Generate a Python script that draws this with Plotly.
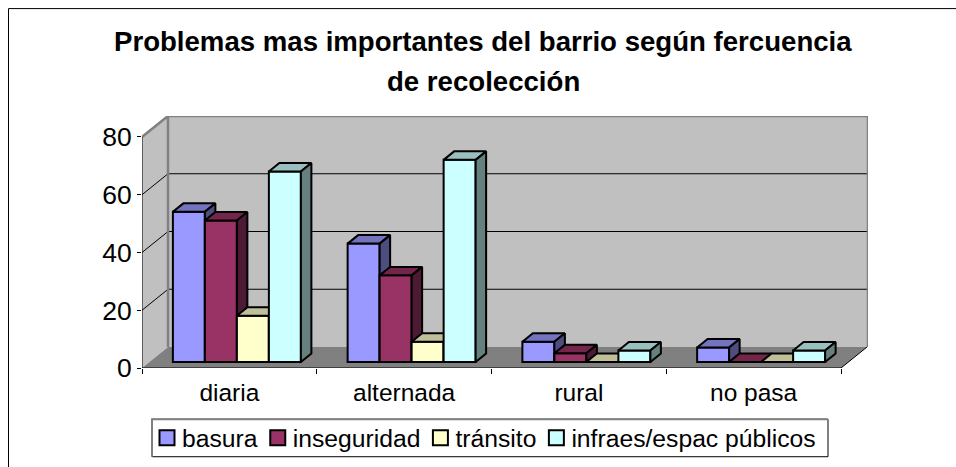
import plotly.graph_objects as go

categories = ["diaria", "alternada", "rural", "no pasa"]
series_names = ["basura", "inseguridad", "tránsito", "infraes/espac públicos"]
basura = [52, 41, 7, 5]
inseguridad = [49, 30, 3, 0]
transito = [16, 7, 0, 0]
infraes = [66, 70, 4, 4]
y_ticks = [0, 20, 40, 60, 80]

series_values = [basura, inseguridad, transito, infraes]
front = ["#9999FF", "#993366", "#FFFFCC", "#CCFFFF"]
top_c = ["#7373BF", "#732649", "#BFBF99", "#99BFBF"]
side_c = ["#4D4D80", "#4D1A33", "#808066", "#668080"]

# pixel geometry of the plot
L, R, T, B = 142, 868, 115.5, 367.7
CAT_PX, UNIT_PX = 174.75, 2.89
px = lambda p: p / CAT_PX
uy = lambda p: p / UNIT_PX
W = 956; H = 467
PW, PH = R - L, B - T
fx = lambda p: (p - L) / PW      # page pixel to paper fraction
fy = lambda p: (B - p) / PH
X0, X1 = -0.5, -0.5 + (R - L) / CAT_PX
Y0, Y1 = 0, (B - T) / UNIT_PX
DX, DY = px(26), uy(21)       # wall depth
GX, GY = px(7.5), uy(6)       # gap before bar
BX, BY = px(10.5), uy(8.5)    # bar depth
BW = px(32)
XR = X0 + len(categories)

fig = go.Figure()
wall = dict(mode="lines", hoverinfo="skip", showlegend=False, cliponaxis=False)
GREY = "#808080"
# walls and floor
fig.add_trace(go.Scatter(x=[X0, X0 + DX, X0 + DX, X0, X0], y=[0, DY, Y1, 80, 0], fill="toself",
                         fillcolor="#C0C0C0", line=dict(width=0), **wall))
fig.add_trace(go.Scatter(x=[X0 + DX, X1, X1, X0 + DX, X0 + DX], y=[DY, DY, Y1, Y1, DY], fill="toself",
                         fillcolor="#C0C0C0", line=dict(width=0), **wall))
fig.add_trace(go.Scatter(x=[X0, XR, XR + DX, X0 + DX, X0], y=[0, 0, DY, DY, 0], fill="toself",
                         fillcolor=GREY, line=dict(width=0), **wall))
# gridlines
gx, gy = [], []
for v in y_ticks[1:-1]:
    gx += [X0, X0 + DX, X1, None]
    gy += [v, v + DY, v + DY, None]
fig.add_trace(go.Scatter(x=gx, y=gy, line=dict(color="#000000", width=1), **wall))
# wall edges
fig.add_trace(go.Scatter(x=[X0, X0 + DX, X1, X1], y=[80, Y1, Y1, DY], line=dict(color=GREY, width=2.5), **wall))
fig.add_trace(go.Scatter(x=[X0 + DX, X0 + DX], y=[Y1, DY], line=dict(color=GREY, width=2.5), **wall))
# axis lines
fig.add_trace(go.Scatter(x=[X0, X0, XR, XR + DX], y=[80, 0, 0, DY], line=dict(color="#000000", width=1), **wall))

for s, (name, vals) in enumerate(zip(series_names, series_values)):
    n = s + 2
    xa, ya = f"x{n}", f"y{n}"
    offset = GX + (s - 2) * BW
    fig.add_trace(go.Bar(x=list(range(len(categories))), y=vals, base=GY, width=BW, offset=offset,
                         name=name, marker=dict(color=front[s], line=dict(color="#000000", width=2)),
                         xaxis=xa, yaxis=ya, hoverinfo="y"))
    tx, ty, sx, sy = [], [], [], []
    for i, v in enumerate(vals):
        l = i + offset
        r = l + BW
        t = GY + v
        tx += [l, r, r + BX, l + BX, l, None]
        ty += [t, t, t + BY, t + BY, t, None]
        if v > 0:
            sx += [r, r + BX, r + BX, r, r, None]
            sy += [GY, GY + BY, t + BY, t, GY, None]
    fig.add_trace(go.Scatter(x=tx, y=ty, fill="toself", fillcolor=top_c[s], mode="lines",
                             line=dict(color="#000000", width=2), showlegend=False, hoverinfo="skip",
                             xaxis=xa, yaxis=ya, cliponaxis=False))
    fig.add_trace(go.Scatter(x=sx, y=sy, fill="toself", fillcolor=side_c[s], mode="lines",
                             line=dict(color="#000000", width=2), showlegend=False, hoverinfo="skip",
                             xaxis=xa, yaxis=ya, cliponaxis=False))

layout = dict(
    width=W, height=H, autosize=False,
    margin=dict(l=L, r=W - R, t=T, b=H - B, pad=0, autoexpand=False),
    paper_bgcolor="#FFFFFF", plot_bgcolor="#FFFFFF",
    font=dict(family="Liberation Sans, Arial, sans-serif", color="#000000"),
    barmode="overlay",
    showlegend=True,
    legend=dict(orientation="h", xanchor="left", yanchor="top",
                x=fx(152), y=fy(415),
                bgcolor="rgba(0,0,0,0)", borderwidth=0,
                font=dict(size=24.7), indentation=-15, itemwidth=35, traceorder="normal"),
    xaxis=dict(range=[X0, X1], tickmode="array", tickvals=list(range(len(categories))),
               ticktext=categories, ticks="", showgrid=False, zeroline=False, showline=False,
               tickfont=dict(size=24.5), ticklabelstandoff=7,
               minor=dict(tickmode="array", tickvals=[i - 0.5 for i in range(len(categories) + 1)],
                          ticks="outside", ticklen=5, tickcolor="#000000", tickwidth=1, showgrid=False)),
    yaxis=dict(range=[Y0, Y1], tickmode="array", tickvals=y_ticks, ticks="outside", ticklen=4,
               tickcolor="#000000", tickwidth=1, showgrid=False, zeroline=False, showline=False,
               tickfont=dict(size=26.5)),
    annotations=[
        dict(text="<b>Problemas mas importantes del barrio según fercuencia</b>", xref="paper", yref="paper",
             x=fx(483), y=fy(41), xanchor="center", yanchor="middle",
             showarrow=False, font=dict(size=27.6)),
        dict(text="<b>de recolección</b>", xref="paper", yref="paper",
             x=fx(483), y=fy(81), xanchor="center", yanchor="middle",
             showarrow=False, font=dict(size=27.6)),
    ],
    shapes=[
        # outer chart frame, running off the right and bottom of the crop
        dict(type="path", xref="paper", yref="paper", line=dict(color="#000000", width=1),
             path=f"M {fx(8.5)} {fy(470)} L {fx(8.5)} {fy(8)} L {fx(960)} {fy(8)}"),
        # legend frame
        dict(type="rect", xref="paper", yref="paper", x0=fx(152), x1=fx(828), y0=fy(456.5), y1=fy(419),
             fillcolor="#FFFFFF", line=dict(color="#000000", width=1)),
        dict(type="path", xref="paper", yref="paper", line=dict(color=GREY, width=2),
             path=f"M {fx(152)} {fy(456.5)} L {fx(152)} {fy(419)} L {fx(828)} {fy(419)}"),
    ],
)
for n in range(2, 6):
    layout[f"xaxis{n}"] = dict(range=[X0, X1], overlaying="x", visible=False, matches="x")
    layout[f"yaxis{n}"] = dict(range=[Y0, Y1], overlaying="y", visible=False, matches="y")
fig.update_layout(**layout)
POST = """
document.body.style.margin='0';document.body.style.overflow='hidden';
var gd=document.getElementById('{plot_id}');
function growSwatches(){
  gd.querySelectorAll('.legend .legendpoints path').forEach(function(p){
    p.setAttribute('d','M15,7.5H0V-7.5H15Z');
  });
}
growSwatches();
gd.on('plotly_afterplot',growSwatches);
setTimeout(growSwatches,50);
"""
fig.write_html("out.html", config={"displayModeBar": False}, post_script=POST)
